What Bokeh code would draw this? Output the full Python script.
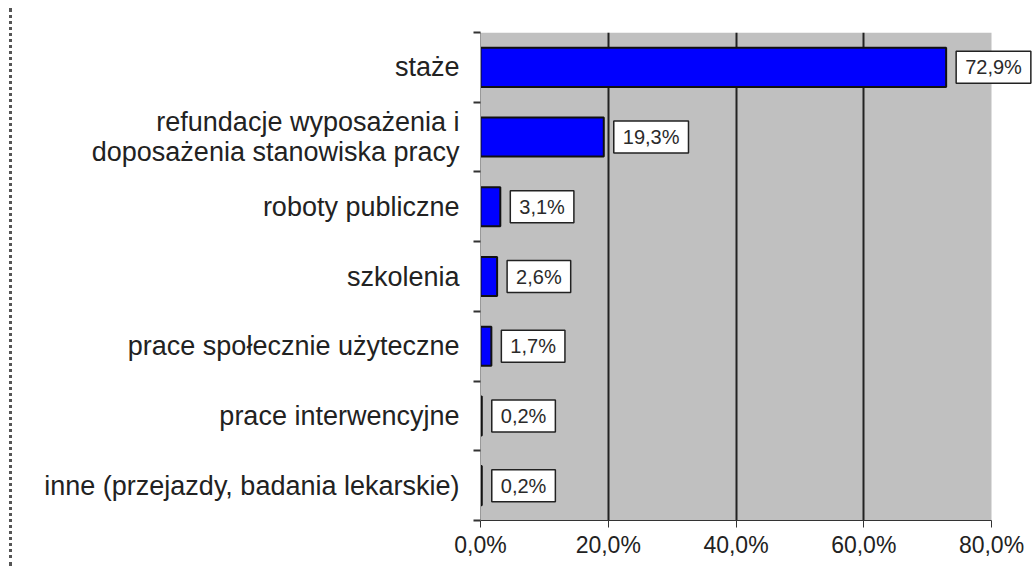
from bokeh.plotting import figure
from bokeh.models import Div, FixedTicker, ColumnDataSource, Range1d, BoxAnnotation
from bokeh.layouts import row
from bokeh.core.properties import value
from bokeh.embed import file_html
from bokeh.resources import INLINE

categories = [
    "staże",
    "refundacje wyposażenia i\ndoposażenia stanowiska pracy",
    "roboty publiczne",
    "szkolenia",
    "prace społecznie użyteczne",
    "prace interwencyjne",
    "inne (przejazdy, badania lekarskie)",
]
values = [72.9, 19.3, 3.1, 2.6, 1.7, 0.2, 0.2]
x_ticks = [0, 20, 40, 60, 80]
x_tick_labels = ["0,0%", "20,0%", "40,0%", "60,0%", "80,0%"]

n = len(categories)
ypos = [n - 1 - i for i in range(n)]
labels = [f"{v:.1f}%".replace(".", ",") for v in values]

FONT = "Liberation Sans"
fig_w, fig_h = 1020, 561
b_left, b_top, b_bottom = 468, 32, 41
plot_w = 511  # pixel width of the 0..80 area
frame_w = fig_w - b_left
x_end = x_ticks[-1] * frame_w / plot_w

p = figure(width=fig_w, height=fig_h,
           x_range=Range1d(x_ticks[0], x_end),
           y_range=Range1d(-0.5, n - 0.5),
           output_backend="svg", toolbar_location=None,
           min_border_left=b_left, min_border_right=0,
           min_border_top=b_top, min_border_bottom=b_bottom)
p.background_fill_color = "white"
p.border_fill_color = "white"
p.outline_line_color = None

bg = BoxAnnotation(left=x_ticks[0], right=x_ticks[-1], fill_color="#C0C0C0",
                   fill_alpha=1.0, line_color=None, level="image")
p.add_layout(bg)

src = ColumnDataSource(dict(y=ypos, v=values, label=labels))

p.hbar(y="y", right="v", left=0, height=0.56, source=src,
       fill_color="#0000FF", line_color="#111111", line_width=2)

p.text(x="v", y="y", text="label", source=src, x_offset=10,
       text_align="left", text_baseline="middle",
       text_font=value(FONT), text_font_size="20px", text_color="#2a2a2a",
       background_fill_color="white", border_line_color="#222222",
       border_line_width=1.5,
       padding=dict(left=9, right=9, top=5, bottom=5))

# x axis
p.xaxis.ticker = FixedTicker(ticks=x_ticks)
p.xaxis.major_label_overrides = {t: l for t, l in zip(x_ticks, x_tick_labels)}
p.xaxis.bounds = (x_ticks[0], x_ticks[-1])
p.xaxis.axis_line_color = "#333333"
p.xaxis.major_tick_line_color = "#333333"
p.xaxis.major_tick_out = 7
p.xaxis.major_tick_in = 0
p.xaxis.minor_tick_line_color = None
p.xaxis.major_label_standoff = 4
p.xaxis.major_label_text_font = FONT
p.xaxis.major_label_text_font_size = "23px"
p.xaxis.major_label_text_color = "#222222"

p.xgrid.ticker = FixedTicker(ticks=x_ticks[1:-1])
p.xgrid.grid_line_color = "#222222"
p.xgrid.grid_line_width = 2
p.ygrid.grid_line_color = None

# y axis
p.yaxis.ticker = FixedTicker(ticks=ypos, minor_ticks=[k - 0.5 for k in range(n + 1)])
p.yaxis.major_label_overrides = {y: c for y, c in zip(ypos, categories)}
p.yaxis.axis_line_color = "#999999"
p.yaxis.major_tick_line_color = None
p.yaxis.major_tick_out = 0
p.yaxis.major_tick_in = 0
p.yaxis.minor_tick_line_color = "#333333"
p.yaxis.minor_tick_line_width = 2
p.yaxis.minor_tick_out = 7
p.yaxis.minor_tick_in = 0
p.yaxis.major_label_standoff = 14
p.yaxis.major_label_text_font = FONT
p.yaxis.major_label_text_font_size = "27px"
p.yaxis.major_label_text_line_height = 1.0
p.yaxis.major_label_text_color = "#222222"

edge = Div(text="", width=3, height=fig_h - 3, margin=(8, 0, 0, 9),
           styles={"border-left": "3px dotted #555555", "height": f"{fig_h - 3}px",
                   "box-sizing": "border-box"})

layout = row(edge, p)
open("out.html", "w").write(file_html(layout, INLINE))
